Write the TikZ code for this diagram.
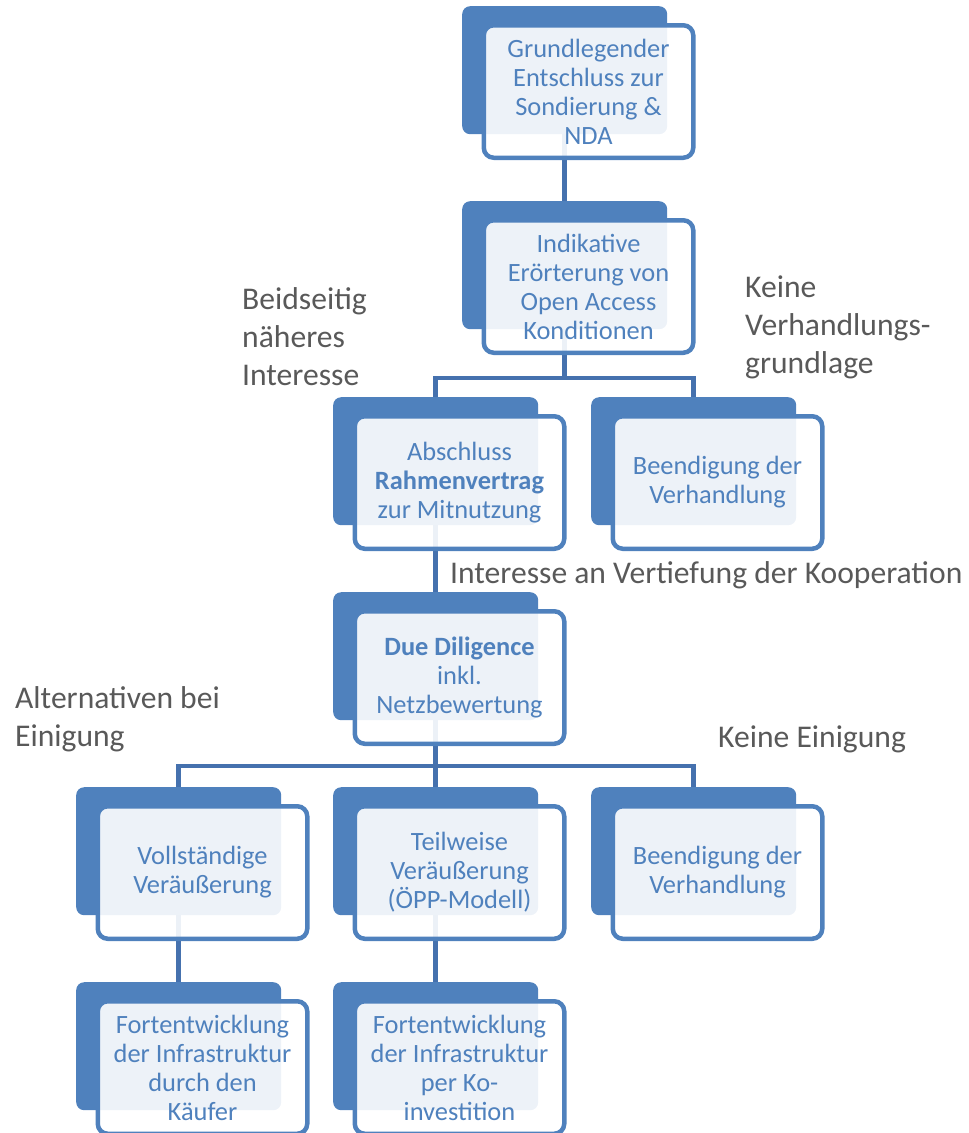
\documentclass[tikz,border=0pt]{standalone}
\usepackage{fontspec}
\setmainfont{Carlito}
\definecolor{accent}{HTML}{4F81BD}
\definecolor{linkblue}{HTML}{4571AE}
\definecolor{labelgray}{HTML}{595959}
\pgfdeclarelayer{background}
\pgfsetlayers{background,main}

% one stage: solid back card plus a translucent front card carrying the text
% #1 name, #2/#3 top-left corner of the back card, #4 text
\newcommand\stagecard[4]{%
  \node[backcard] (#1b) at (#2,#3) {};
  \node[frontcard] (#1) at (#2+126.5,#3+85.5) {#4};
}

\begin{document}
\begin{tikzpicture}[x=1pt,y=-1pt,
  backcard/.style={fill=accent, rounded corners=8pt, minimum width=205pt,
    minimum height=128pt, inner sep=0pt, anchor=north west},
  frontcard/.style={draw=accent, line width=4.5pt, fill=white, fill opacity=0.9,
    text opacity=1, rounded corners=10pt, minimum width=209.5pt,
    minimum height=132.5pt, inner sep=0pt, align=center, text=accent,
    font=\fontsize{26.4}{29}\selectfont},
  link/.style={draw=linkblue, line width=4.5pt},
  note/.style={text=labelgray, font=\fontsize{31.6}{38}\selectfont,
    align=left, anchor=base west, inner sep=0pt}
]
\useasboundingbox (0,0) rectangle (969,1133);

\stagecard{s1}{462}{6}{Grundlegender\\Entschluss zur\\Sondierung \&\\NDA}
\stagecard{s2}{462}{201}{Indikative\\Erörterung von\\Open Access\\Konditionen}
\stagecard{s3}{333}{397}{Abschluss\\\textbf{Rahmenvertrag}\\zur Mitnutzung}
\stagecard{s4}{591}{397}{Beendigung der\\Verhandlung}
\stagecard{s5}{333}{592}{\textbf{Due Diligence}\\inkl.\\Netzbewertung}
\stagecard{s6}{76}{787}{Vollständige\\Veräußerung}
\stagecard{s7}{333}{787}{Teilweise\\Veräußerung\\(ÖPP-Modell)}
\stagecard{s8}{591}{787}{Beendigung der\\Verhandlung}
\stagecard{s9}{76}{982}{Fortentwicklung\\der Infrastruktur\\durch den\\Käufer}
\stagecard{s10}{333}{982}{Fortentwicklung\\der Infrastruktur\\per Ko-\\investition}

\coordinate (bus1) at (0,378);
\coordinate (bus2) at (0,766);

\begin{pgfonlayer}{background}
  \draw[link] (s1b.south) -- (s2b.north);
  \draw[link] (s2b.south) -- (s2b.south |- bus1);
  \draw[link] (s3b.north) -- (s3b.north |- bus1) -- (s4b.north |- bus1) -- (s4b.north);
  \draw[link] (s3b.south) -- (s5b.north);
  \draw[link] (s5b.south) -- (s5b.south |- bus2);
  \draw[link] (s6b.north) -- (s6b.north |- bus2) -- (s8b.north |- bus2) -- (s8b.north);
  \draw[link] (s7b.north) -- (s7b.north |- bus2);
  \draw[link] (s6b.south) -- (s9b.north);
  \draw[link] (s7b.south) -- (s10b.north);
\end{pgfonlayer}

% the base anchor of a multi-line note sits on its last line
\node[note] (n1) at (242,385) {Beidseitig\\näheres\\Interesse};
\node[note] (n2) at (745,373) {Keine\\Verhandlungs-\\grundlage};
\node[note] (n3) at (450,583) {Interesse an Vertiefung der Kooperation};
\node[note] (n4) at (15,746) {Alternativen bei\\Einigung};
\node[note] (n5) at (718,747) {Keine Einigung};
\end{tikzpicture}
\end{document}
